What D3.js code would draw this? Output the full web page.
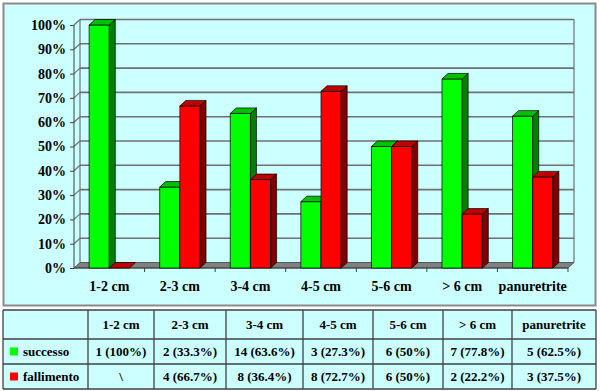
<!DOCTYPE html>
<html><head><meta charset="utf-8">
<script src="https://cdn.jsdelivr.net/npm/d3@7"></script>
<style>html,body{margin:0;padding:0;background:#fff;}svg{display:block;}</style>
</head><body>
<script>
const categories = ["1-2 cm","2-3 cm","3-4 cm","4-5 cm","5-6 cm","> 6 cm","panuretrite"];
const seriesNames = ["successo","fallimento"];
const successo = [100, 33.3, 63.6, 27.3, 50, 77.8, 62.5];
const fallimento = [0, 66.7, 36.4, 72.7, 50, 22.2, 37.5];
const successoLabels = ["1 (100%)","2 (33.3%)","14 (63.6%)","3 (27.3%)","6 (50%)","7 (77.8%)","5 (62.5%)"];
const fallimentoLabels = ["\\","4 (66.7%)","8 (36.4%)","8 (72.7%)","6 (50%)","2 (22.2%)","3 (37.5%)"];
const yTicks = [0,10,20,30,40,50,60,70,80,90,100];

const W = 600, H = 391;
const font = "'Liberation Serif','Times New Roman',serif";
const svg = d3.select("body").append("svg").attr("width", W).attr("height", H);

// outer panel
svg.append("rect").attr("x",3.5).attr("y",3.5).attr("width",592).attr("height",302)
  .attr("fill","#CCFFFF").attr("stroke","#8a8a8a").attr("stroke-width",2);

const dx = 6, dy = -5.5;
const x = d3.scaleBand().domain(categories).range([74, 568]).padding(0);
const xs = d3.scaleBand().domain(seriesNames).range([0, x.bandwidth()]).paddingInner(0).paddingOuter(0.75);
const y = d3.scaleLinear().domain([0,100]).range([268, 25]);

const g = svg.append("g");
const x0 = x.range()[0], x1 = x.range()[1];

// back wall gridlines
g.selectAll("line.grid").data(yTicks.filter(d=>d>0)).join("line")
  .attr("x1", x0+dx).attr("x2", x1+dx).attr("y1", d=>y(d)+dy).attr("y2", d=>y(d)+dy)
  .attr("stroke","#707070").attr("stroke-width",1.6);
// back wall edges
g.append("line").attr("x1",x0+dx).attr("x2",x0+dx).attr("y1",y(100)+dy).attr("y2",y(0)+dy).attr("stroke","#707070").attr("stroke-width",1.2);
g.append("line").attr("x1",x1+dx).attr("x2",x1+dx).attr("y1",y(100)+dy).attr("y2",y(0)+dy).attr("stroke","#707070").attr("stroke-width",1.2);
// side wall diagonals
g.selectAll("line.diag").data(yTicks.filter(d=>d>0)).join("line")
  .attr("x1", x0).attr("x2", x0+dx).attr("y1", d=>y(d)).attr("y2", d=>y(d)+dy)
  .attr("stroke","#707070").attr("stroke-width",1.2);

// floor
g.append("path").attr("d", `M${x0},${y(0)}L${x0+dx},${y(0)+dy}L${x1+dx},${y(0)+dy}L${x1},${y(0)}Z`)
  .attr("fill","#808080").attr("stroke","#404040").attr("stroke-width",0.8);

// front axis
g.append("line").attr("x1",x0).attr("x2",x0).attr("y1",y(100)).attr("y2",y(0)).attr("stroke","#404040").attr("stroke-width",1);
g.append("line").attr("x1",x0).attr("x2",x1).attr("y1",y(0)).attr("y2",y(0)).attr("stroke","#404040").attr("stroke-width",1);

const yAxis = d3.axisLeft(y).tickValues(yTicks).tickFormat(d=>d+"%").tickSize(4).tickPadding(4);
const ya = svg.append("g").attr("transform",`translate(${x0},0)`).call(yAxis);
ya.select(".domain").remove();
ya.selectAll(".tick line").attr("stroke","#404040");
ya.selectAll("text").attr("font-family",font).attr("font-weight","bold").attr("font-size",14).attr("fill","#000");

const xAxis = d3.axisBottom(x).tickSize(0).tickPadding(13);
const xa = svg.append("g").attr("transform",`translate(0,${y(0)})`).call(xAxis);
xa.select(".domain").remove();
xa.selectAll("text").attr("font-family",font).attr("font-weight","bold").attr("font-size",14).attr("fill","#000");
// category boundary ticks
svg.selectAll("line.ctick").data(categories.slice(1).concat(["__end"])).join("line")
  .attr("x1", (d,i)=>x(categories[i])+x.bandwidth()).attr("x2",(d,i)=>x(categories[i])+x.bandwidth())
  .attr("y1", y(0)).attr("y2", y(0)+4).attr("stroke","#404040");

// bars
const colors = {
  successo: {front:"#00FF00", side:"#008000", top:"#00C000"},
  fallimento: {front:"#FF0000", side:"#800000", top:"#C00000"}
};
const bars = [];
categories.forEach((c,i)=>{
  bars.push({c, s:"successo", v:successo[i]});
  bars.push({c, s:"fallimento", v:fallimento[i]});
});
const bw = xs.bandwidth();
const bg = svg.append("g").attr("stroke","#000").attr("stroke-width",0.7).attr("stroke-linejoin","round");
bars.forEach(b=>{
  const bx = x(b.c) + xs(b.s), yt = y(b.v), yb = y(0);
  const col = colors[b.s];
  if (b.v > 0) {
    bg.append("rect").attr("x",bx).attr("y",yt).attr("width",bw).attr("height",yb-yt).attr("fill",col.front);
    bg.append("path").attr("d",`M${bx+bw},${yt}L${bx+bw+dx},${yt+dy}L${bx+bw+dx},${yb+dy}L${bx+bw},${yb}Z`).attr("fill",col.side);
  }
  bg.append("path").attr("d",`M${bx},${yt}L${bx+dx},${yt+dy}L${bx+bw+dx},${yt+dy}L${bx+bw},${yt}Z`).attr("fill",col.top);
});

// table
const cols = [3, 88, 154, 226, 303, 373, 443, 512, 596];
const rows = [310, 339, 364, 389];
const tg = svg.append("g");
tg.append("rect").attr("x",cols[0]).attr("y",rows[0]).attr("width",cols[8]-cols[0]).attr("height",rows[3]-rows[0]).attr("fill","#CCFFFF");
cols.forEach(cx=>tg.append("line").attr("x1",cx).attr("x2",cx).attr("y1",rows[0]).attr("y2",rows[3]).attr("stroke","#404040").attr("stroke-width",1.3));
rows.forEach(ry=>tg.append("line").attr("x1",cols[0]).attr("x2",cols[8]).attr("y1",ry).attr("y2",ry).attr("stroke","#404040").attr("stroke-width",1.3));
const tText = (txt, cx, cy, anchor="middle") => tg.append("text").attr("x",cx).attr("y",cy).attr("dy","0.35em")
  .attr("text-anchor",anchor).attr("font-family",font).attr("font-weight","bold").attr("font-size",13).attr("fill","#000").text(txt);
categories.forEach((c,i)=>{
  const cx = (cols[i+1]+cols[i+2])/2;
  tText(c, cx, (rows[0]+rows[1])/2);
  tText(successoLabels[i], cx, (rows[1]+rows[2])/2);
  tText(fallimentoLabels[i], cx, (rows[2]+rows[3])/2);
});
[[ "successo", rows[1]], ["fallimento", rows[2]]].forEach(([s, r])=>{
  const cy = r + (rows[1+ (s==="successo"?1:2)] - r)/2;
  tg.append("rect").attr("x",10).attr("y",cy-4).attr("width",8).attr("height",8).attr("fill",colors[s].front);
  tText(s, 23, cy, "start");
});
</script>
</body></html>
